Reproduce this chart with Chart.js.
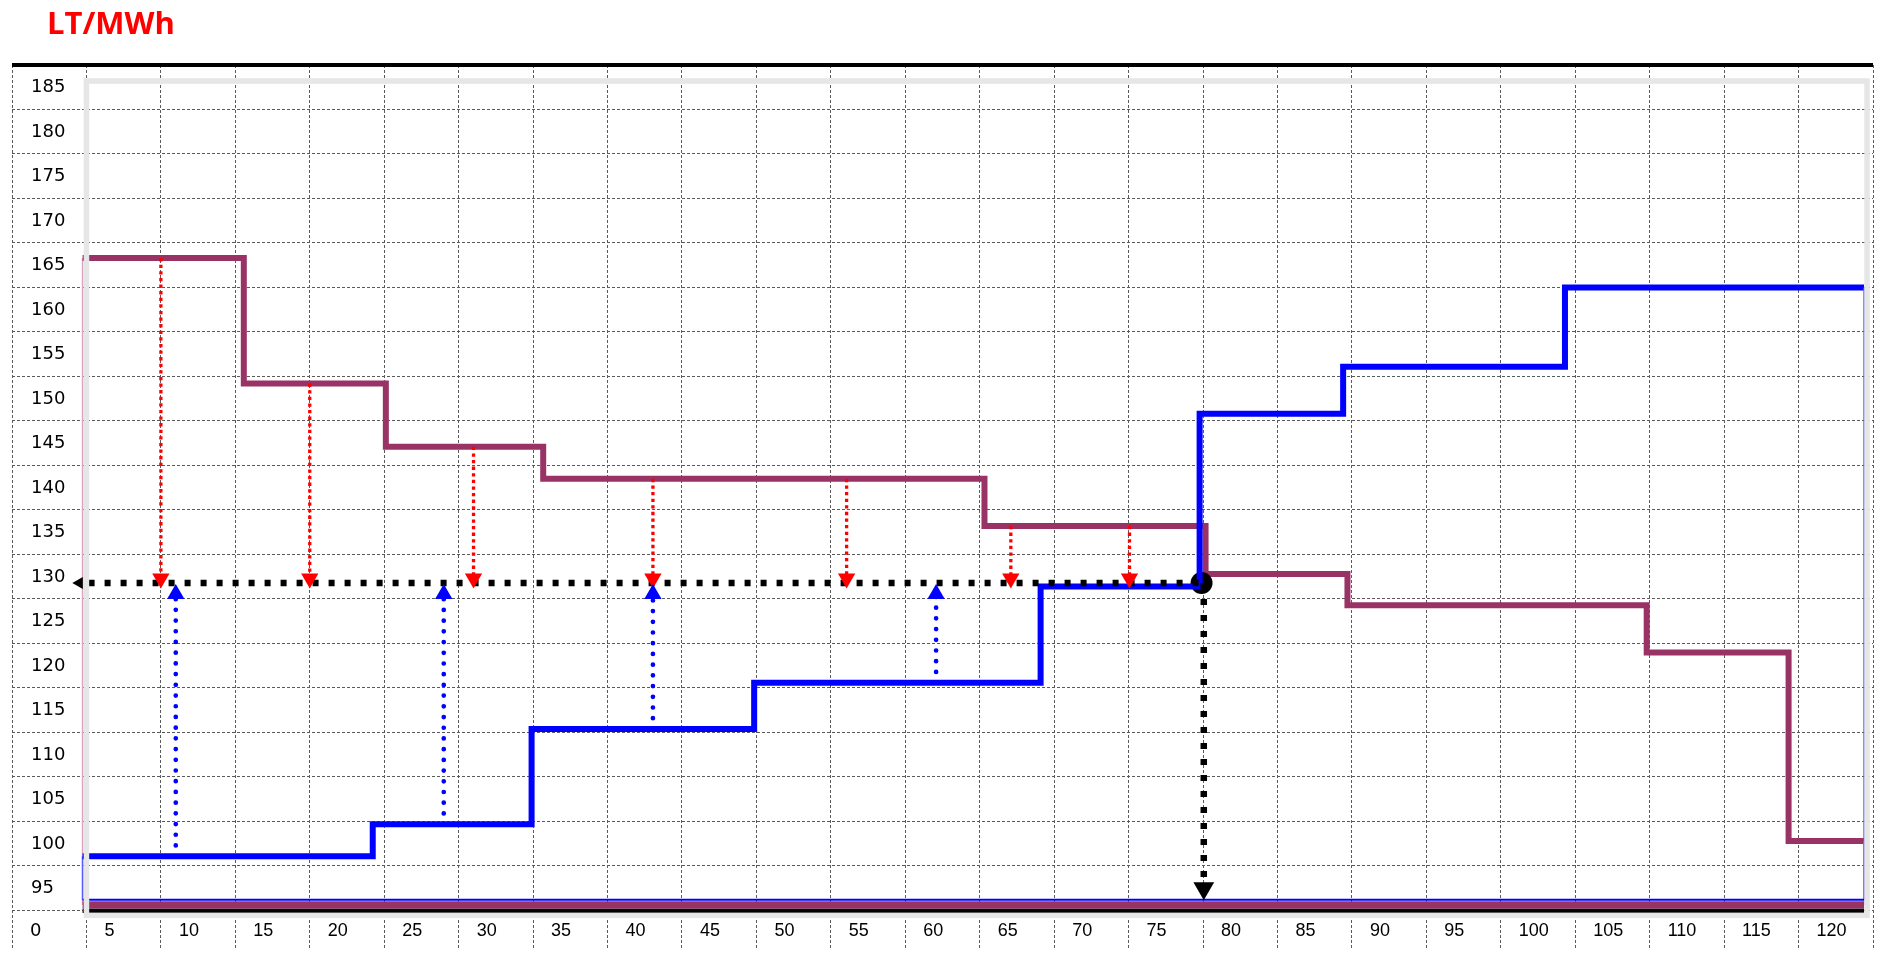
<!DOCTYPE html>
<html>
<head>
<meta charset="utf-8">
<title>LT/MWh</title>
<script src="https://cdn.jsdelivr.net/npm/chart.js@4.4.1/dist/chart.umd.min.js"></script>
<style>
  body { margin: 0; background: #fff; overflow: hidden; }
  .wrap { position: relative; width: 1885px; height: 961px; }
  .unit { position: absolute; left: 47px; top: 7px; color: #ff0000;
          font: bold 31px/31px 'Open Sans', sans-serif; }
</style>
</head>
<body>
<div class="wrap">
  <canvas id="myChart" width="1885" height="961"></canvas>
  <div class="unit">LT/MWh</div>
</div>
<script>
// demand curve (purple): step edges in MW and the price of each step
const demandQty = [-0.26, 10.57, 20.11, 30.68, 60.32, 75.17, 84.70, 104.80, 114.33, 119.4];
const demandPrice = [165.8, 151.7, 144.6, 141.0, 135.7, 130.3, 126.8, 121.5, 100.3];

// supply curve (blue)
const supplyQty = [-0.26, 19.23, 29.9, 44.85, 64.09, 74.77, 84.41, 99.31, 119.4];
const supplyPrice = [98.6, 102.2, 112.9, 118.1, 128.9, 148.3, 153.6, 162.5];

// market clearing point
const clearQty = 74.9;
const clearPrice = 129.3;

// dotted arrows towards the clearing price
const demandArrowQty = [5.0, 15.0, 26.0, 38.05, 51.06, 62.09, 70.06];
const supplyArrowQty = [6.0, 24.0, 38.05, 57.07];

// tick labels (every label sits inside its own grid cell)
const qtyLabels = [0, 5, 10, 15, 20, 25, 30, 35, 40, 45, 50, 55, 60, 65, 70, 75, 80, 85, 90, 95, 100, 105, 110, 115, 120];
const priceLabels = [95, 100, 105, 110, 115, 120, 125, 130, 135, 140, 145, 150, 155, 160, 165, 170, 175, 180, 185];

// grid lines lie on the cell borders
const xTickValues = qtyLabels.map(v => v - 5).concat([120]);
const yTickValues = [92.5].concat(priceLabels.map(v => v + 2.5));

const demandBase = 93.12;
const supplyBase = 93.71;
const axisBase = 92.46;

function levelAt(q, edges, prices) {
  let i = 0;
  while (i < prices.length - 1 && q >= edges[i + 1]) i++;
  return prices[i];
}

// closed step shape: left side, steps, right side, bottom
function stepShape(edges, prices, base) {
  const last = edges.length - 1;
  const pts = [{x: edges[0], y: base}];
  prices.forEach((p, i) => pts.push({x: edges[i], y: p}));
  pts.push({x: edges[last], y: prices[prices.length - 1]});
  pts.push({x: edges[last], y: base});
  pts.push({x: edges[0], y: base});
  return pts;
}

function stepDataset(label, pts, color, sideColor, width, bottomWidth, order) {
  const n = pts.length;
  const part = i => (i === 0 || i === n - 3) ? 'side' : (i === n - 2 ? 'bottom' : 'step');
  return {
    label: label,
    data: pts,
    stepped: true,
    order: order,
    borderColor: color,
    borderWidth: width,
    pointRadius: 0,
    segment: {
      borderColor: c => part(c.p0DataIndex) === 'side' ? sideColor : color,
      borderWidth: c => {
        const p = part(c.p0DataIndex);
        return p === 'side' ? 1.5 : (p === 'bottom' ? bottomWidth : width);
      }
    }
  };
}

const datasets = [];

datasets.push({
  label: 'axis',
  data: [{x: demandQty[0], y: axisBase}, {x: demandQty[demandQty.length - 1], y: axisBase}],
  borderColor: '#000', borderWidth: 4.5, pointRadius: 0, order: 10
});
datasets.push(stepDataset('demand', stepShape(demandQty, demandPrice, demandBase), '#993366', '#d9a3c1', 6, 7.3, 9));
datasets.push({
  label: 'clearing',
  data: [{x: clearQty, y: clearPrice}],
  pointStyle: 'circle', pointRadius: 11, pointBackgroundColor: '#000', pointBorderWidth: 0,
  showLine: false, order: 8
});
datasets.push(stepDataset('supply', stepShape(supplyQty, supplyPrice, supplyBase), '#0000ff', '#5a5aff', 6, 2, 7));

// clearing price to the price axis, clearing quantity to the quantity axis
datasets.push({
  label: 'price line',
  data: [{x: -0.48, y: clearPrice}, {x: clearQty, y: clearPrice}],
  borderColor: '#000', borderWidth: 6.5, borderDash: [6, 10], borderDashOffset: 6.7,
  pointStyle: 'triangle', pointRotation: 270, pointRadius: [7, 0],
  pointBackgroundColor: '#000', pointBorderWidth: 0, order: 5
});
datasets.push({
  label: 'quantity line',
  data: [{x: clearQty + 0.15, y: clearPrice}, {x: clearQty + 0.15, y: 95.0}],
  borderColor: '#000', borderWidth: 6.5, borderDash: [6, 10],
  pointStyle: 'triangle', pointRotation: 180, pointRadius: [0, 12],
  pointBackgroundColor: '#000', pointBorderWidth: 0, order: 5
});

demandArrowQty.forEach(q => datasets.push({
  label: 'bid',
  data: [{x: q, y: levelAt(q, demandQty, demandPrice)}, {x: q, y: clearPrice + 0.5}],
  borderColor: '#ff0000', borderWidth: 3.3, borderDash: [3.3, 3.3],
  pointStyle: 'triangle', pointRotation: 180, pointRadius: [0, 10],
  pointBackgroundColor: '#ff0000', pointBorderWidth: 0, order: 3
}));

supplyArrowQty.forEach(q => datasets.push({
  label: 'offer',
  data: [{x: q, y: levelAt(q, supplyQty, supplyPrice)}, {x: q, y: clearPrice - 1.25}],
  borderColor: '#0000ff', borderWidth: 4.7, borderDash: [0.01, 10.7], borderCapStyle: 'round',
  pointStyle: 'triangle', pointRotation: 0, pointRadius: [0, 10],
  pointBackgroundColor: '#0000ff', pointBorderWidth: 0, order: 2
}));

// light grey plot frame
const plotFrame = {
  id: 'plotFrame',
  afterDatasetsDraw(chart) {
    const {ctx, scales: {x, y}} = chart;
    const l = x.getPixelForValue(0), r = x.getPixelForValue(119.6);
    const t = y.getPixelForValue(185.7), b = y.getPixelForValue(91.95);
    ctx.save();
    ctx.strokeStyle = '#e6e6e6';
    ctx.lineWidth = 5.5;
    ctx.strokeRect(l, t, r - l, b - t);
    ctx.restore();
  }
};

function noSize(s, key) {
  s[key] = 0;
  s.paddingLeft = s.paddingRight = s.paddingTop = s.paddingBottom = 0;
}

const gridColor = '#5a5a5a';
const isTop = c => c.tick && c.tick.value === 187.5;

const ctx = document.getElementById('myChart');

new Chart(ctx, {
  type: 'line',
  data: { datasets: datasets },
  options: {
    responsive: false,
    devicePixelRatio: 1,
    animation: false,
    events: [],
    layout: { padding: { top: 65, left: 12, right: 0, bottom: 0 } },
    plugins: { legend: { display: false }, tooltip: { enabled: false } },
    scales: {
      x: {
        type: 'linear', min: -5, max: 120, bounds: 'data',
        afterBuildTicks: s => { s.ticks = xTickValues.map(v => ({value: v})); },
        afterFit: s => noSize(s, 'height'),
        grid: { color: gridColor, lineWidth: 1, drawTicks: false },
        border: { display: false, dash: [3, 2] },
        ticks: {
          mirror: true, align: 'start', labelOffset: 18, padding: 7,
          autoSkip: false, maxRotation: 0, color: '#000',
          font: c => ({ family: c.index === 0 ? 'DejaVu Sans' : 'Liberation Sans', size: 18 }),
          callback: v => v === 120 ? '' : String(v + 5)
        }
      },
      y: {
        type: 'linear', min: 88.17, max: 187.5, bounds: 'data',
        afterBuildTicks: s => { s.ticks = yTickValues.map(v => ({value: v})); },
        afterFit: s => noSize(s, 'width'),
        grid: {
          color: c => isTop(c) ? '#000' : gridColor,
          lineWidth: c => isTop(c) ? 4 : 1,
          drawTicks: false
        },
        border: { display: false, dash: c => isTop(c) ? [] : [3, 2] },
        ticks: {
          mirror: true, padding: 19, labelOffset: 22.5,
          autoSkip: false, color: '#000',
          font: { family: 'DejaVu Sans', size: 18 },
          callback: v => v === 92.5 ? '' : String(v - 2.5)
        }
      }
    }
  },
  plugins: [plotFrame]
});
</script>
</body>
</html>
